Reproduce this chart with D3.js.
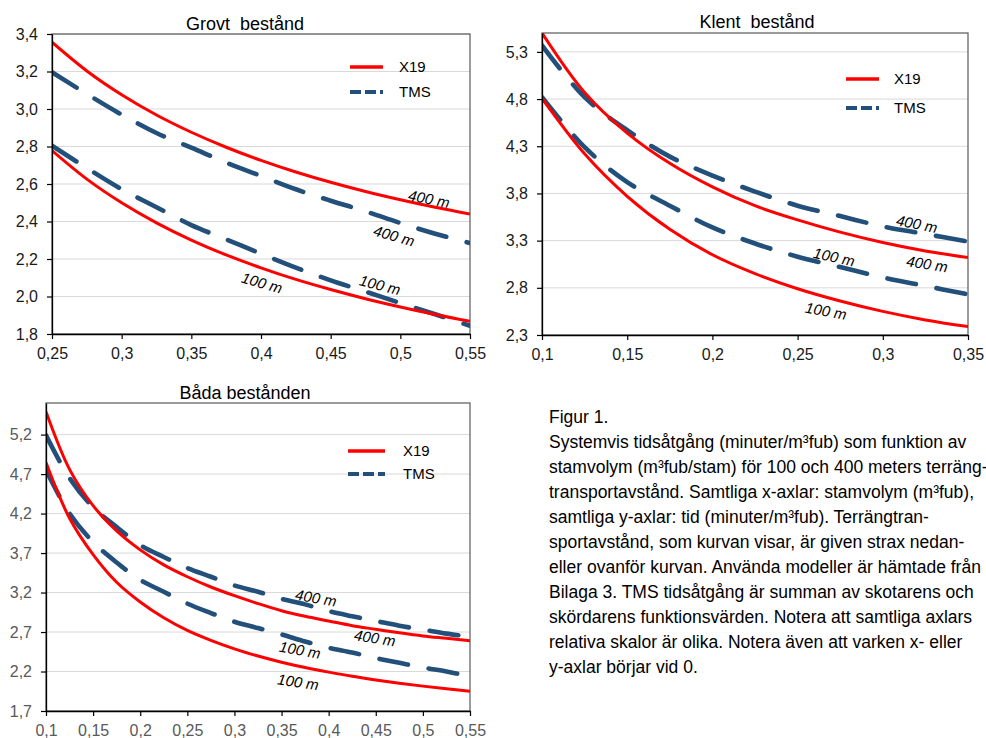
<!DOCTYPE html>
<html><head><meta charset="utf-8">
<script src="https://cdn.jsdelivr.net/npm/d3@7"></script>
<style>
body{margin:0;background:#fff}
svg{display:block;font-family:"Liberation Sans",Arial,Helvetica,sans-serif}
</style></head><body>
<svg id="c" width="986" height="738"></svg>
<script>
// ---------- DATA ----------
const seriesNames = ["X19", "TMS"];
const distLabels = ["100 m", "400 m"];

// Grovt bestånd
const grovX = [0.25,0.275,0.3,0.325,0.35,0.375,0.4,0.425,0.45,0.475,0.5,0.525,0.55];
const grovX19_400 = [3.356,3.203,3.076,2.968,2.876,2.796,2.726,2.664,2.609,2.560,2.516,2.476,2.440];
const grovX19_100 = [2.778,2.626,2.500,2.393,2.301,2.222,2.153,2.091,2.037,1.988,1.944,1.904,1.868];
const grovTMS_400 = [3.196,3.080,2.970,2.872,2.794,2.714,2.643,2.572,2.511,2.454,2.392,2.335,2.285];
const grovTMS_100 = [2.804,2.685,2.572,2.476,2.381,2.305,2.228,2.154,2.086,2.026,1.965,1.905,1.844];
const grovXTicks = [0.25,0.3,0.35,0.4,0.45,0.5,0.55];
const grovYTicks = [1.8,2.0,2.2,2.4,2.6,2.8,3.0,3.2,3.4];

// Klent bestånd
const klentX = [0.1,0.125,0.15,0.175,0.2,0.225,0.25,0.275,0.3,0.325,0.35];
const klentX19_400 = [5.50,4.87,4.44,4.12,3.87,3.67,3.52,3.39,3.28,3.19,3.12];
const klentX19_100 = [4.81,4.22,3.77,3.42,3.15,2.95,2.79,2.66,2.55,2.46,2.39];
const klentTMS_400 = [5.37,4.82,4.47,4.19,3.99,3.82,3.67,3.56,3.45,3.37,3.29];
const klentTMS_100 = [4.82,4.29,3.92,3.67,3.44,3.27,3.13,3.02,2.91,2.82,2.73];
const klentXTicks = [0.1,0.15,0.2,0.25,0.3,0.35];
const klentYTicks = [2.3,2.8,3.3,3.8,4.3,4.8,5.3];

// Båda bestånden
const bothX = [0.1,0.125,0.15,0.175,0.2,0.225,0.25,0.275,0.3,0.325,0.35,0.375,0.4,0.425,0.45,0.475,0.5,0.525,0.55];
const bothX19_400 = [5.49,4.76,4.30,3.98,3.74,3.55,3.40,3.27,3.16,3.06,2.97,2.90,2.84,2.78,2.735,2.69,2.65,2.62,2.59];
const bothX19_100 = [4.845,4.14,3.68,3.33,3.08,2.88,2.72,2.594,2.486,2.396,2.318,2.25,2.192,2.139,2.093,2.052,2.015,1.981,1.95];
const bothTMS_400 = [5.19,4.65,4.28,4.03,3.80,3.65,3.51,3.40,3.29,3.21,3.12,3.05,2.965,2.90,2.84,2.78,2.73,2.68,2.64];
const bothTMS_100 = [4.75,4.20,3.84,3.58,3.36,3.21,3.06,2.94,2.83,2.75,2.67,2.58,2.50,2.44,2.37,2.31,2.25,2.20,2.14];
const bothXTicks = [0.1,0.15,0.2,0.25,0.3,0.35,0.4,0.45,0.5,0.55];
const bothYTicks = [1.7,2.2,2.7,3.2,3.7,4.2,4.7,5.2];

const captionLines = [
  "Figur 1.",
  "Systemvis tidsåtgång (minuter/m³fub) som funktion av",
  "stamvolym (m³fub/stam) för 100 och 400 meters terräng-",
  "transportavstånd. Samtliga x-axlar: stamvolym (m³fub),",
  "samtliga y-axlar: tid (minuter/m³fub). Terrängtran-",
  "sportavstånd, som kurvan visar, är given strax nedan-",
  "eller ovanför kurvan. Använda modeller är hämtade från",
  "Bilaga 3. TMS tidsåtgång är summan av skotarens och",
  "skördarens funktionsvärden. Notera att samtliga axlars",
  "relativa skalor är olika. Notera även att varken x- eller",
  "y-axlar börjar vid 0."
];

// ---------- LAYOUT / STYLE ----------
const RED = "#ff0000", BLUE = "#23507a";
const panels = [
  { title: "Grovt  bestånd", titleX: 245, titleY: 30,
    xs: grovX, x19: [grovX19_100, grovX19_400], tms: [grovTMS_100, grovTMS_400],
    xDomain: [0.25, 0.55], yDomain: [1.8, 3.4], xTicks: grovXTicks, yTicks: grovYTicks,
    box: { l: 52, r: 470, t: 34, b: 334 }, labelColor: "#1a1a1a",
    legend: { x1: 350, x2: 383, y1: 67, y2: 92, tx: 399 },
    labels: [ // [text, x value, y value, angle]
      ["400 m", 0.5206, 2.52, 11], ["400 m", 0.4955, 2.323, 16],
      ["100 m", 0.4007, 2.072, 16], ["100 m", 0.4854, 2.061, 14] ] },
  { title: "Klent  bestånd", titleX: 757, titleY: 28,
    xs: klentX, x19: [klentX19_100, klentX19_400], tms: [klentTMS_100, klentTMS_400],
    xDomain: [0.1, 0.35], yDomain: [2.3, 5.5], xTicks: klentXTicks, yTicks: klentYTicks,
    box: { l: 542, r: 968, t: 33, b: 335 }, labelColor: "#1a1a1a",
    legend: { x1: 846, x2: 879, y1: 79, y2: 108, tx: 894 },
    labels: [
      ["400 m", 0.32, 3.476, 11], ["400 m", 0.326, 3.052, 9],
      ["100 m", 0.2714, 3.126, 12], ["100 m", 0.2667, 2.554, 10] ] },
  { title: "Båda bestånden", titleX: 245, titleY: 399,
    xs: bothX, x19: [bothX19_100, bothX19_400], tms: [bothTMS_100, bothTMS_400],
    xDomain: [0.1, 0.55], yDomain: [1.7, 5.6], xTicks: bothXTicks, yTicks: bothYTicks,
    box: { l: 46, r: 470, t: 403, b: 711 }, labelColor: "#595959",
    legend: { x1: 348, x2: 385, y1: 451, y2: 474, tx: 403 },
    labels: [
      ["400 m", 0.3866, 3.131, 10], ["400 m", 0.449, 2.624, 9],
      ["100 m", 0.3696, 2.472, 10], ["100 m", 0.3675, 2.067, 8] ] }
];

const fmtX = d => String(+d.toFixed(2)).replace(".", ",");
const fmtY = d => d.toFixed(1).replace(".", ",");

const svg = d3.select("#c");
svg.append("rect").attr("width", 986).attr("height", 738).attr("fill", "#fff");

panels.forEach((p, i) => {
  const b = p.box;
  const x = d3.scaleLinear().domain(p.xDomain).range([b.l, b.r]);
  const y = d3.scaleLinear().domain(p.yDomain).range([b.b, b.t]);
  const g = svg.append("g");

  // grid
  g.selectAll(".grid").data(p.yTicks.filter(v => v > p.yDomain[0]))
    .join("line")
    .attr("x1", b.l).attr("x2", b.r)
    .attr("y1", d => y(d)).attr("y2", d => y(d))
    .attr("stroke", "#d9d9d9").attr("stroke-width", 1);

  // frame (top/right)
  g.append("rect").attr("x", b.l).attr("y", b.t)
    .attr("width", b.r - b.l).attr("height", b.b - b.t)
    .attr("fill", "none").attr("stroke", "#595959").attr("stroke-width", 1.2);

  // clip
  const cid = "clip" + i;
  svg.append("clipPath").attr("id", cid).append("rect")
    .attr("x", b.l).attr("y", b.t).attr("width", b.r - b.l).attr("height", b.b - b.t);

  const line = d3.line().x(d => x(d[0])).y(d => y(d[1])).curve(d3.curveCatmullRom.alpha(0.5));
  const lines = g.append("g").attr("clip-path", `url(#${cid})`);
  p.tms.forEach(vals => {
    lines.append("path").datum(p.xs.map((v, k) => [v, vals[k]]))
      .attr("d", line).attr("fill", "none").attr("stroke", BLUE)
      .attr("stroke-width", 4.6).attr("stroke-dasharray", "29,21")
      .attr("stroke-linecap", "round");
  });
  p.x19.forEach(vals => {
    lines.append("path").datum(p.xs.map((v, k) => [v, vals[k]]))
      .attr("d", line).attr("fill", "none").attr("stroke", RED)
      .attr("stroke-width", 3);
  });

  // axes
  const ax = g.append("g").attr("transform", `translate(0,${b.b})`)
    .call(d3.axisBottom(x).tickValues(p.xTicks).tickFormat(fmtX).tickSize(5).tickSizeOuter(0).tickPadding(9));
  const ay = g.append("g").attr("transform", `translate(${b.l},0)`)
    .call(d3.axisLeft(y).tickValues(p.yTicks).tickFormat(fmtY).tickSize(5).tickSizeOuter(0).tickPadding(9));
  [ax, ay].forEach(a => {
    a.select(".domain").attr("stroke", "#000").attr("stroke-width", 1.3);
    a.selectAll(".tick line").attr("stroke", "#000").attr("stroke-width", 1.2);
    a.selectAll(".tick text").attr("fill", p.labelColor)
      .style("font-size", "16px").style("font-family", '"Liberation Sans",Arial,sans-serif');
  });

  // title
  g.append("text").attr("x", p.titleX).attr("y", p.titleY)
    .attr("text-anchor", "middle").style("font-size", "18px").style("white-space", "pre")
    .attr("fill", "#000").text(p.title);

  // legend
  const L = p.legend;
  g.append("line").attr("x1", L.x1).attr("x2", L.x2).attr("y1", L.y1).attr("y2", L.y1)
    .attr("stroke", RED).attr("stroke-width", 3.5);
  g.append("line").attr("x1", L.x1).attr("x2", L.x2).attr("y1", L.y2).attr("y2", L.y2)
    .attr("stroke", BLUE).attr("stroke-width", 4).attr("stroke-dasharray", "11,4");
  seriesNames.forEach((n, k) => {
    g.append("text").attr("x", L.tx).attr("y", (k ? L.y2 : L.y1) + 5)
      .style("font-size", "15px").attr("fill", "#000").text(n);
  });

  // curve labels
  p.labels.forEach(([t, lx, ly, ang]) => {
    g.append("text")
      .attr("transform", `translate(${x(lx)},${y(ly)}) rotate(${ang})`)
      .attr("text-anchor", "middle").attr("dy", "0.35em")
      .style("font-size", "15px").style("font-style", "italic").attr("fill", "#000")
      .text(t);
  });
});

// caption
const cap = svg.append("text").attr("x", 549).attr("y", 423)
  .style("font-size", "17.5px").attr("fill", "#000");
captionLines.forEach((t, k) => {
  cap.append("tspan").attr("x", 549).attr("y", 423 + k * 25).text(t);
});
</script>
</body></html>
